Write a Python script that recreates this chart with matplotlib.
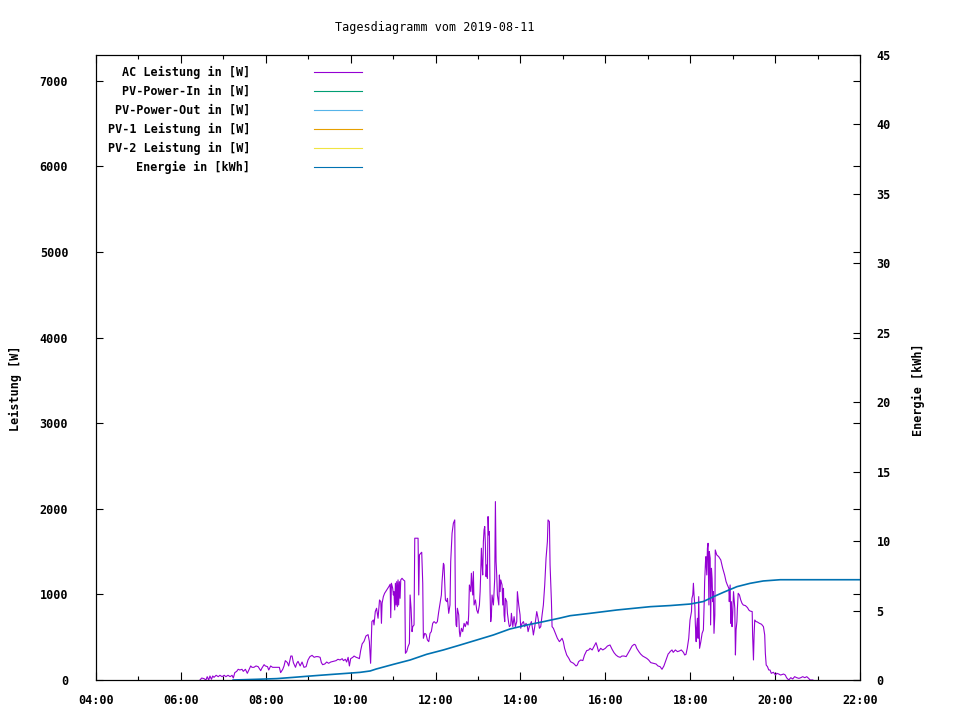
"""Tagesdiagramm: AC-Leistung und Tagesenergie einer PV-Anlage (gnuplot-Stil)."""

import matplotlib

matplotlib.use("Agg")
import matplotlib.pyplot as plt
from matplotlib.lines import Line2D
from matplotlib.ticker import FuncFormatter, MultipleLocator

# --- data (time in decimal hours) ---
ac_time = [
    6.45, 6.49, 6.545, 6.59, 6.62, 6.655, 6.685, 6.72, 6.75, 6.78, 6.83, 6.88, 6.92, 6.97,
    7.02, 7.06, 7.11, 7.16, 7.205, 7.235, 7.27, 7.315, 7.35, 7.39, 7.44, 7.47, 7.52, 7.565,
    7.60, 7.645, 7.675, 7.72, 7.77, 7.82, 7.85, 7.88, 7.91, 7.96, 7.99, 8.04, 8.07, 8.115,
    8.16, 8.21, 8.27, 8.32, 8.35, 8.40, 8.43, 8.46, 8.51, 8.54, 8.59, 8.62, 8.65, 8.70,
    8.73, 8.76, 8.81, 8.855, 8.90, 8.95, 8.995, 9.04, 9.09, 9.14, 9.185, 9.23, 9.28, 9.31,
    9.34, 9.39, 9.435, 9.48, 9.53, 9.59, 9.655, 9.70, 9.75, 9.80, 9.83, 9.875, 9.905, 9.94,
    9.97, 10.0, 10.05, 10.08, 10.13, 10.175, 10.205, 10.235, 10.27, 10.315, 10.36, 10.41,
    10.44, 10.457, 10.47, 10.50, 10.535, 10.55, 10.58, 10.61, 10.645, 10.68, 10.71, 10.725,
    10.74, 10.77, 10.80, 10.85, 10.90, 10.93, 10.944, 10.96, 10.99, 11.006, 11.02, 11.038,
    11.054, 11.07, 11.085, 11.10, 11.116, 11.13, 11.148, 11.164, 11.18, 11.21, 11.242,
    11.274, 11.29, 11.32, 11.352, 11.384, 11.40, 11.423, 11.446, 11.462, 11.493, 11.51,
    11.556, 11.588, 11.604, 11.62, 11.65, 11.674, 11.698, 11.713, 11.745, 11.776, 11.808,
    11.84, 11.87, 11.90, 11.933, 11.965, 12.01, 12.043, 12.075, 12.106, 12.137, 12.153,
    12.185, 12.20, 12.216, 12.232, 12.263, 12.28, 12.31, 12.34, 12.357, 12.389, 12.42,
    12.452, 12.467, 12.483, 12.499, 12.514, 12.546, 12.562, 12.577, 12.61, 12.64, 12.672,
    12.70, 12.734, 12.766, 12.78, 12.797, 12.83, 12.844, 12.86, 12.876, 12.891, 12.907,
    12.94, 12.97, 13.0, 13.033, 13.05, 13.064, 13.08, 13.096, 13.111, 13.127, 13.143,
    13.159, 13.174, 13.19, 13.206, 13.221, 13.237, 13.253, 13.268, 13.284, 13.30, 13.316,
    13.331, 13.363, 13.394, 13.41, 13.426, 13.441, 13.457, 13.49, 13.504, 13.52, 13.536,
    13.567, 13.583, 13.60, 13.614, 13.63, 13.645, 13.677, 13.693, 13.724, 13.74, 13.771,
    13.787, 13.82, 13.85, 13.88, 13.913, 13.928, 13.96, 13.991, 14.007, 14.038, 14.07,
    14.101, 14.132, 14.164, 14.18, 14.21, 14.258, 14.29, 14.305, 14.337, 14.384, 14.415,
    14.447, 14.478, 14.51, 14.54, 14.572, 14.603, 14.635, 14.65, 14.682, 14.698, 14.73,
    14.745, 14.776, 14.808, 14.84, 14.87, 14.918, 14.95, 14.98, 15.01, 15.04, 15.09, 15.14,
    15.18, 15.25, 15.31, 15.34, 15.37, 15.42, 15.47, 15.51, 15.56, 15.61, 15.64, 15.69,
    15.73, 15.78, 15.81, 15.84, 15.89, 15.94, 16.0, 16.05, 16.11, 16.16, 16.205, 16.25,
    16.30, 16.35, 16.39, 16.44, 16.49, 16.535, 16.58, 16.63, 16.68, 16.71, 16.74, 16.79,
    16.83, 16.88, 16.93, 16.975, 17.02, 17.07, 17.13, 17.195, 17.24, 17.29, 17.335, 17.38,
    17.415, 17.445, 17.48, 17.51, 17.525, 17.57, 17.60, 17.65, 17.70, 17.745, 17.79, 17.84,
    17.87, 17.90, 17.93, 17.965, 17.995, 18.03, 18.04, 18.06, 18.075, 18.09, 18.11, 18.12,
    18.14, 18.15, 18.17, 18.185, 18.20, 18.22, 18.25, 18.28, 18.31, 18.33, 18.34, 18.36,
    18.37, 18.39, 18.405, 18.42, 18.44, 18.45, 18.47, 18.48, 18.50, 18.515, 18.53, 18.545,
    18.56, 18.58, 18.59, 18.625, 18.67, 18.72, 18.765, 18.81, 18.845, 18.875, 18.91, 18.92,
    18.94, 18.955, 18.97, 18.985, 19.0, 19.02, 19.05, 19.065, 19.08, 19.10, 19.11, 19.13,
    19.16, 19.19, 19.22, 19.25, 19.30, 19.35, 19.38, 19.41, 19.46, 19.47, 19.49, 19.505,
    19.52, 19.55, 19.58, 19.63, 19.68, 19.725, 19.755, 19.77, 19.79, 19.82, 19.85, 19.88,
    19.91, 19.96, 20.01, 20.04, 20.085, 20.13, 20.20, 20.24, 20.27, 20.32, 20.37, 20.415,
    20.46, 20.51, 20.56, 20.605, 20.65, 20.70, 20.745, 20.79, 20.825, 20.89,
]
ac_power = [
    0, 23, 16, 0, 39, 0, 47, 8, 47, 31, 55, 39, 55, 39,
    55, 39, 55, 39, 55, 23, 86, 101, 125, 117, 125, 101, 125, 78,
    117, 164, 148, 148, 164, 156, 132, 109, 140, 179, 164, 156, 117, 164,
    148, 148, 148, 148, 86, 125, 164, 226, 203, 164, 280, 280, 203, 148,
    195, 218, 164, 210, 148, 156, 234, 273, 288, 265, 273, 273, 265, 203,
    179, 187, 210, 195, 210, 218, 226, 242, 234, 249, 226, 242, 210, 265,
    164, 249, 265, 280, 265, 257, 249, 343, 421, 452, 514, 530,
    452, 300, 195, 682, 701, 643, 799, 838, 721, 935, 915, 662,
    896, 974, 1013, 1052, 1091, 1118, 728, 1130, 1071, 993, 1032, 818,
    1130, 876, 1149, 857, 1169, 876, 1149, 954, 1169, 1188, 1169,
    1157, 312, 331, 390, 428, 993, 838, 565, 623, 643, 1656,
    1656, 1656, 993, 1461, 1480, 1492, 1130, 487, 545, 534, 467,
    448, 545, 565, 662, 682, 662, 682, 799, 896, 993, 1149,
    1363, 1344, 1149, 935, 915, 954, 779, 876, 1383, 1714, 1831,
    1870, 876, 643, 623, 838, 760, 565, 506, 604, 565, 662,
    623, 682, 643, 760, 1110, 1032, 1247, 1110, 993, 1266, 876,
    935, 818, 779, 876, 1032, 1247, 1539, 1344, 1227, 1617, 1753,
    1792, 1578, 1208, 1344, 1188, 1909, 1695, 1733, 1032, 682, 760,
    993, 876, 1188, 2084, 1383, 1227, 993, 876, 1227, 1032, 1169,
    1110, 876, 1071, 760, 682, 954, 915, 779, 662, 623, 643,
    779, 623, 740, 623, 682, 1032, 876, 760, 604, 662, 682,
    623, 662, 623, 565, 623, 682, 584, 526, 623, 799, 721,
    604, 623, 760, 876, 1110, 1422, 1617, 1870, 1850, 1344, 915,
    623, 604, 565, 526, 487, 448, 467, 487, 448, 370, 292, 253,
    214, 195, 164, 175, 214, 234, 227, 292, 343, 351, 370, 351,
    390, 436, 390, 331, 370, 351, 370, 397, 409, 358, 319, 292,
    273, 265, 280, 280, 273, 312, 351, 397, 417, 409, 370, 331,
    304, 280, 265, 253, 234, 203, 195, 187, 164, 156, 125, 164,
    214, 253, 304, 319, 331, 351, 323, 351, 331, 339, 351, 323,
    292, 300, 370, 487, 701, 799, 954, 993, 1130, 993, 857, 662,
    448, 604, 721, 487, 974, 370, 448, 545, 584, 915, 1149, 1383,
    1441, 1227, 1539, 1597, 876, 1500, 1422, 643, 1305, 1188, 915, 1032,
    545, 760, 1519, 1461, 1441, 1402, 1305, 1227, 1149, 1110, 1071, 915,
    1110, 662, 915, 623, 760, 1032, 838, 292, 584, 682, 818, 1013,
    993, 935, 896, 876, 869, 845, 818, 806, 799, 526, 234, 526,
    701, 682, 678, 662, 651, 623, 526, 312, 175, 156, 117, 117,
    78, 90, 58, 78, 70, 58, 70, 58, 27, 0, 27, 12,
    39, 27, 19, 27, 39, 27, 39, 19, 0, 0,
]

energy_time = [
    7.23, 7.79, 8.26, 8.65, 8.98, 9.28, 9.59, 9.91, 10.22, 10.46, 10.60, 11.01, 11.40,
    11.79, 12.18, 12.58, 12.97, 13.36, 13.75, 14.15, 14.54, 14.92, 15.17, 15.64, 16.27,
    17.06, 17.53, 18.0, 18.31, 18.55, 18.78, 19.10, 19.41, 19.72, 20.12, 22.0,
]
energy_kwh = [
    0.0, 0.05, 0.10, 0.19, 0.27, 0.34, 0.41, 0.48, 0.55, 0.65, 0.79, 1.13, 1.44,
    1.85, 2.16, 2.52, 2.88, 3.24, 3.67, 3.96, 4.20, 4.45, 4.63, 4.80, 5.04,
    5.28, 5.36, 5.47, 5.65, 6.0, 6.31, 6.72, 6.96, 7.13, 7.22, 7.22,
]

# series shown in the legend; only AC and Energie carry visible data on this day
series_labels = [
    "AC Leistung in [W]",
    "PV-Power-In in [W]",
    "PV-Power-Out in [W]",
    "PV-1 Leistung in [W]",
    "PV-2 Leistung in [W]",
    "Energie in [kWh]",
]
series_colors = ["#9400d3", "#009e73", "#56b4e9", "#e69f00", "#f0e442", "#0072b2"]

title = "Tagesdiagramm vom 2019-08-11"
x_range = (4, 22)
y1_range = (0, 7300)
y2_range = (0, 45)

FONT = "DejaVu Sans Mono"
FS = 8.5
PX = 1 / 960, 1 / 720  # figure fraction per pixel


def hhmm(v, _pos):
    return f"{int(round(v)):02d}:00"


fig = plt.figure(figsize=(9.6, 7.2), dpi=100)
ax = fig.add_axes([96 * PX[0], 40 * PX[1], 764 * PX[0], 625 * PX[1]])
ax2 = ax.twinx()

ax.plot(ac_time, ac_power, color=series_colors[0], lw=0.8)
for c in series_colors[1:5]:
    ax.plot([], [], color=c, lw=0.8)
ax2.plot(energy_time, energy_kwh, color=series_colors[5], lw=1.2)

ax.set_xlim(*x_range)
ax.set_ylim(*y1_range)
ax2.set_ylim(*y2_range)

ax.xaxis.set_major_locator(MultipleLocator(2))
ax.xaxis.set_minor_locator(MultipleLocator(1))
ax.xaxis.set_major_formatter(FuncFormatter(hhmm))
ax.yaxis.set_major_locator(MultipleLocator(1000))
ax2.yaxis.set_major_locator(MultipleLocator(5))

ax.tick_params(axis="x", which="major", direction="in", length=6, width=0.8,
               top=True, pad=10)
ax.tick_params(axis="x", which="minor", direction="in", length=3, width=0.8, top=True)
ax.tick_params(axis="y", which="major", direction="in", length=5, width=0.8,
               right=True, pad=20)
ax2.tick_params(axis="y", direction="in", length=5, width=0.8, pad=12)

for a in (ax, ax2):
    for sp in a.spines.values():
        sp.set_linewidth(0.8)
    for lab in a.get_xticklabels() + a.get_yticklabels():
        lab.set_fontfamily(FONT)
        lab.set_fontweight("bold")
        lab.set_fontsize(FS)
for lab in ax2.get_yticklabels():
    lab.set_horizontalalignment("left")

fig.text(435 * PX[0], 1 - 27 * PX[1], title, ha="center", va="center",
         family=FONT, fontsize=FS)
fig.text(15 * PX[0], 1 - 388 * PX[1], "Leistung [W]", rotation=90, ha="center",
         va="center", family=FONT, weight="bold", fontsize=FS)
fig.text(918 * PX[0], 1 - 390 * PX[1], "Energie [kWh]", rotation=90, ha="center",
         va="center", family=FONT, weight="bold", fontsize=FS)

# gnuplot-style key: right-aligned text, sample line to the right
for i, (lab, c) in enumerate(zip(series_labels, series_colors)):
    yk = 1 - (72 + 19 * i) * PX[1]
    fig.text(250 * PX[0], yk, lab, ha="right", va="center", family=FONT,
             weight="bold", fontsize=FS)
    fig.add_artist(Line2D([314 * PX[0], 362 * PX[0]], [yk, yk], color=c, lw=0.8,
                          transform=fig.transFigure))

fig.savefig("out.png", dpi=100)
